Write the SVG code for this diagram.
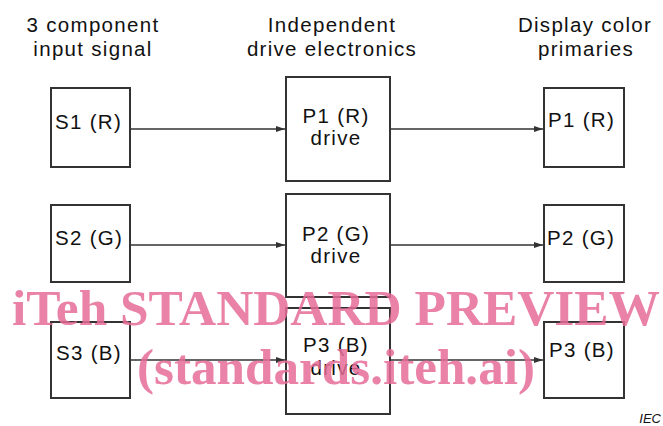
<svg xmlns="http://www.w3.org/2000/svg" width="663" height="426" viewBox="0 0 663 426">
<style>
.bx{fill:#fff;stroke:#333;stroke-width:2}
.t{font-family:"Liberation Sans",Arial,sans-serif;font-size:20.5px;letter-spacing:1.3px;fill:#111}
.h{text-anchor:middle}
.c{stroke:#333;stroke-width:1.6;fill:none;marker-end:url(#ah)}
.wm{font-family:"Liberation Serif","Times New Roman",serif;font-weight:bold;font-size:51px;fill:#e56c97;fill-opacity:0.85;text-anchor:middle}
</style>
<defs>
<marker id="ah" markerWidth="9" markerHeight="6" refX="9" refY="3" orient="auto" markerUnits="userSpaceOnUse">
<path d="M0,0 L9,3 L0,6 Z" fill="#333"/>
</marker>
</defs>
<rect width="663" height="426" fill="#fff"/>
<g id="headers">
<text class="t h" x="93" y="32">3 component</text>
<text class="t h" x="93" y="56">input signal</text>
<text class="t h" x="332" y="32">Independent</text>
<text class="t h" x="332" y="56">drive electronics</text>
<text class="t h" x="585" y="32">Display color</text>
<text class="t h" x="586" y="56">primaries</text>
</g>
<g id="connectors">
<line class="c" x1="130" y1="129" x2="285" y2="129"/>
<line class="c" x1="390" y1="129" x2="543" y2="129"/>
<line class="c" x1="130" y1="245" x2="285" y2="245"/>
<line class="c" x1="390" y1="245" x2="543" y2="245"/>
<line class="c" x1="130" y1="360" x2="285" y2="360"/>
<line class="c" x1="390" y1="360" x2="543" y2="360"/>
</g>
<g id="s1"><rect class="bx" x="51" y="88" width="79" height="79"/><text class="t" x="55" y="129">S1 (R)</text></g>
<g id="s2"><rect class="bx" x="51" y="205" width="79" height="77"/><text class="t" x="55" y="245">S2 (G)</text></g>
<g id="s3"><rect class="bx" x="51" y="322" width="79" height="76"/><text class="t" x="56" y="360">S3 (B)</text></g>
<g id="d1"><rect class="bx" x="286" y="77" width="104" height="104"/><text class="t h" x="336" y="123">P1 (R)</text><text class="t h" x="336" y="145">drive</text></g>
<g id="d2"><rect class="bx" x="286" y="194" width="104" height="103"/><text class="t h" x="336" y="241">P2 (G)</text><text class="t h" x="336" y="263">drive</text></g>
<g id="d3"><rect class="bx" x="286" y="308" width="104" height="106"/><text class="t h" x="336" y="352">P3 (B)</text><text class="t h" x="336" y="375">drive</text></g>
<g id="p1"><rect class="bx" x="544" y="88" width="80" height="79"/><text class="t" x="548" y="127">P1 (R)</text></g>
<g id="p2"><rect class="bx" x="544" y="205" width="80" height="77"/><text class="t" x="547" y="245">P2 (G)</text></g>
<g id="p3"><rect class="bx" x="544" y="322" width="80" height="76"/><text class="t" x="549" y="357">P3 (B)</text></g>
<text x="661" y="423" font-family="'Liberation Sans',Arial,sans-serif" font-size="13" font-style="italic" text-anchor="end" fill="#111">IEC</text>
<g id="watermark">
<text class="wm" x="336" y="325" textLength="648" lengthAdjust="spacingAndGlyphs">iTeh STANDARD PREVIEW</text>
<text class="wm" x="336" y="384" textLength="398" lengthAdjust="spacingAndGlyphs">(standards.iteh.ai)</text>
</g>
</svg>
